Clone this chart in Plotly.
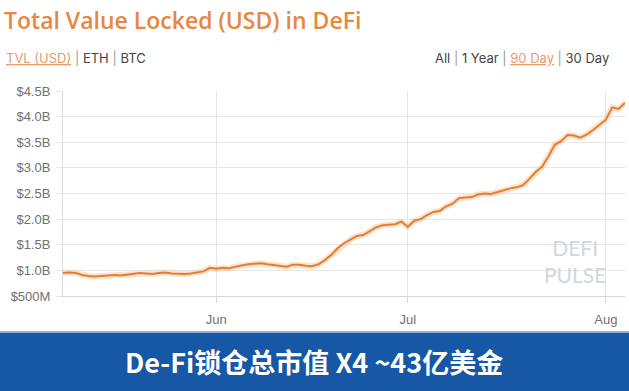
import plotly.graph_objects as go
import pandas as pd

dates = pd.date_range("2020-05-08", "2020-08-04", freq="D")
tvl_billions = [
    0.95, 0.96, 0.95, 0.91, 0.89, 0.88, 0.89, 0.90, 0.91, 0.90,
    0.92, 0.94, 0.95, 0.94, 0.93, 0.95, 0.96, 0.94, 0.93, 0.93,
    0.94, 0.96, 0.98, 1.05, 1.03, 1.05, 1.04, 1.07, 1.10, 1.12,
    1.13, 1.14, 1.12, 1.10, 1.09, 1.07, 1.11, 1.11, 1.09, 1.08,
    1.12, 1.20, 1.30, 1.43, 1.53, 1.60, 1.67, 1.69, 1.76, 1.84,
    1.88, 1.89, 1.90, 1.95, 1.85, 1.97, 2.00, 2.08, 2.14, 2.16,
    2.25, 2.30, 2.41, 2.42, 2.43, 2.48, 2.50, 2.49, 2.53, 2.57,
    2.60, 2.62, 2.66, 2.78, 2.92, 3.02, 3.22, 3.45, 3.52, 3.64,
    3.63, 3.59, 3.65, 3.74, 3.84, 3.94, 4.18, 4.15, 4.27,
]
y_tick_vals = [0.5, 1.0, 1.5, 2.0, 2.5, 3.0, 3.5, 4.0, 4.5]
y_tick_text = ["$500M", "$1.0B", "$1.5B", "$2.0B", "$2.5B", "$3.0B", "$3.5B", "$4.0B", "$4.5B"]

title_text = "Total Value Locked (USD) in DeFi"
banner_text = "De-Fi锁仓总市值 X4 ~43亿美金"

W, H = 629, 391
L, R, T, B = 63, 4, 91, 95
PW, PH = W - L - R, H - T - B


def px(x):
    return (x - L) / PW


def py(y):
    return (H - B - y) / PH


ORANGE = "#E8873F"
GRID = "#e6e6e6"
LABEL = "#707070"
SEL = "<span style='color:#EB9A6E'><u>{}</u></span>"
PIPE = " <span style='color:#9a9a9a'>|</span> "

fig = go.Figure()
fig.add_trace(go.Scatter(x=dates, y=tvl_billions, mode="lines",
                         line=dict(color="rgba(250,175,110,0.35)", width=6),
                         hoverinfo="skip", showlegend=False))
fig.add_trace(go.Scatter(x=dates, y=tvl_billions, mode="lines",
                         line=dict(color="#E47D33", width=2),
                         showlegend=False))

fig.update_layout(
    width=W, height=H,
    margin=dict(l=L, r=R, t=T, b=B),
    paper_bgcolor="white", plot_bgcolor="white",
    font=dict(family="Liberation Sans, Arial, sans-serif", size=12, color=LABEL),
    xaxis=dict(
        range=[dates[0], dates[-1]],
        tick0="2020-06-01", dtick="M1", tickformat="%b",
        showgrid=True, gridcolor=GRID, gridwidth=1,
        ticks="outside", ticklen=6, tickcolor="#d8d8d8",
        ticklabelstandoff=5,
        showline=True, linecolor="#d8d8d8",
        tickfont=dict(size=13, color=LABEL),
        zeroline=False, fixedrange=True,
    ),
    yaxis=dict(
        range=[0.5, 4.5],
        tickvals=y_tick_vals, ticktext=y_tick_text,
        showgrid=True, gridcolor=GRID, gridwidth=1,
        ticks="outside", ticklen=6, tickcolor=GRID,
        ticklabelstandoff=3,
        showline=True, linecolor="#dcdcdc",
        tickfont=dict(size=13, color=LABEL),
        zeroline=False, fixedrange=True,
    ),
    shapes=[
        dict(type="rect", xref="paper", yref="paper",
             x0=px(-5), x1=px(W + 5), y0=py(H + 5), y1=py(332),
             fillcolor="#1657A6", line=dict(width=0), layer="above"),
        dict(type="rect", xref="paper", yref="paper",
             x0=px(-5), x1=px(W + 5), y0=py(333), y1=py(331),
             fillcolor="#8FB3DD", line=dict(width=0), layer="above"),
    ],
)

anns = [
    dict(text=title_text, x=px(3), y=py(3), xanchor="left", yanchor="top",
         font=dict(family="Open Sans, sans-serif", size=23, color=ORANGE, weight=600)),
    dict(text=SEL.format("TVL (USD)") + PIPE + "ETH" + PIPE + "BTC",
         x=px(5), y=py(58), xanchor="left", yanchor="middle",
         font=dict(family="Inter, sans-serif", size=13, color="#444")),
    dict(text="All" + PIPE + "1 Year" + PIPE + SEL.format("90 Day") + PIPE + "30 Day",
         x=px(610), y=py(58), xanchor="right", yanchor="middle",
         font=dict(family="Inter, sans-serif", size=13, color="#444")),
    dict(text="DEFI<br>PULSE", x=px(575), y=py(261),
         xanchor="center", yanchor="middle", align="center",
         font=dict(family="Lato, sans-serif", size=21, color="#d3d5e1")),
    dict(text="<b>" + banner_text + "</b>", x=px(314), y=py(361),
         xanchor="center", yanchor="middle",
         font=dict(family="Noto Sans CJK SC, sans-serif", size=27, color="white")),
]
fig.update_layout(annotations=[dict(a, xref="paper", yref="paper", showarrow=False, borderpad=0) for a in anns])

fig.write_html("out.html", config={"displayModeBar": False},
               post_script="document.body.style.margin='0';document.body.style.padding='0';")
